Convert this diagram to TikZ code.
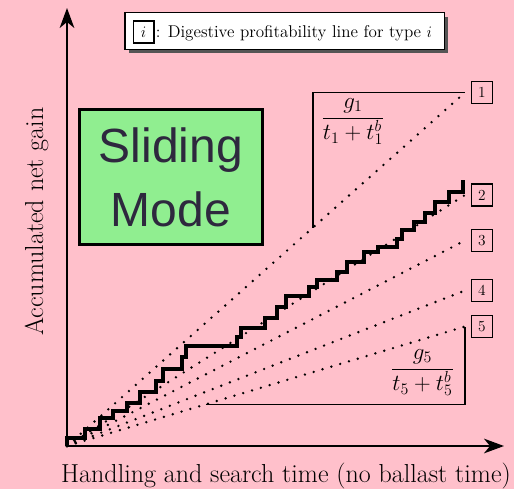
\documentclass[tikz,border=0pt]{standalone}
\usepackage{fontspec}
\newfontfamily\modefont{Liberation Sans}
\usetikzlibrary{arrows.meta,calc,positioning,shadows}
\definecolor{bgpink}{RGB}{255,192,203}
\definecolor{modegreen}{RGB}{144,238,144}
\definecolor{modeink}{RGB}{46,40,62}
\definecolor{shadowgray}{RGB}{85,85,85}
\begin{document}
\begin{tikzpicture}[x=0.75pt,y=-0.75pt,
  axis/.style={line width=1.1pt,-{Stealth[length=15pt,width=11pt,inset=4.5pt]}},
  guide/.style={line width=2pt,line cap=round,dash pattern=on 0pt off 6.9pt},
  walk/.style={line width=2.3pt},
  slope/.style={line width=1.1pt},
  numbox/.style={draw,line width=0.9pt,minimum width=15.6pt,minimum height=16.4pt,inner sep=0pt,font=\fontsize{11.5}{13}\selectfont},
  fraclabel/.style={inner sep=0pt,font=\fontsize{17.28}{21}\selectfont},
  axislabel/.style={inner sep=0pt,font=\fontsize{19.5}{23}\selectfont},
  legframe/.style={draw,line width=1.1pt,fill=white,minimum width=239.6pt,minimum height=27.4pt,
    drop shadow={shadow xshift=3pt,shadow yshift=-3pt,fill=shadowgray,opacity=1}},
  legtext/.style={inner sep=0pt,font=\fontsize{12.8}{15}\selectfont},
  modebox/.style={draw,line width=2.6pt,fill=modegreen,minimum width=136.9pt,minimum height=100.9pt,
    align=center,text=modeink,font=\modefont\fontsize{36}{48}\selectfont}]

% background and frame
\fill[bgpink] (0,0) rectangle (514,489);
\useasboundingbox (0,0) rectangle (514,489);

% origin, axis tips and the ends of the profitability lines
\coordinate (O) at (67,446);
\coordinate (ytip) at (67,8);
\coordinate (xtip) at (504,446);
\coordinate (e1) at (465,92.5);
\coordinate (e2) at (465,195);
\coordinate (e3) at (465,240.5);
\coordinate (e4) at (465,290.5);
\coordinate (e5) at (465,326.5);

% profitability lines with their type labels
\foreach \i in {1,...,5}{
  \draw[guide] (O) -- (e\i);
  \node[numbox,right=4.5pt of e\i] (n\i) {\i};
}

% slope triangles
\coordinate (s1) at ($(O)!0.6181!(e1)$);
\draw[slope] (s1) |- (e1);
\coordinate (s5) at ($(O)!0.3492!(e5)$);
\draw[slope] (s5) -| (e5);
\node[fraclabel,anchor=base] (f1) at (353,123.75) {$\displaystyle\frac{g_1}{t_1+t_1^b}$};
\node[fraclabel,anchor=base] (f5) at (422.5,374.75) {$\displaystyle\frac{g_5}{t_5+t_5^b}$};

% accumulated gain of the forager
\draw[walk] (O) |- (85,438) |- (100,429) |- (113,418) |- (127,411) |- (140,403)
  |- (156,392) |- (163,381) |- (182,369) |- (186,357) |- (237,346) |- (241,337)
  |- (265,328) |- (277,318) |- (286,307) |- (309,296) |- (317,287) |- (337,280)
  |- (347,272) |- (364,262) |- (378,252) |- (397,247) |- (402,239) |- (414,230)
  |- (425,222) |- (435,213) |- (449,202) |- (463,192) -- (463,180);

% axes
\draw[axis] (O) -- (ytip);
\draw[axis] (O) -- (xtip);
\node[axislabel,anchor=base] (xl) at (286,482) {Handling and search time (no ballast time)};
\node[axislabel,rotate=90,anchor=base] (yl) at (43,221.5) {Accumulated net gain};

% mode box
\node[modebox] (mode) at (171,177) {Sliding\\Mode};

% legend
\node[legframe] (leg) at (284.5,31) {};
\node[numbox] (legi) at (143.5,32) {$i$};
\node[legtext,anchor=base west] (legt) at (155.5,37) {: Digestive profitability line for type $i$};
\end{tikzpicture}
\end{document}
